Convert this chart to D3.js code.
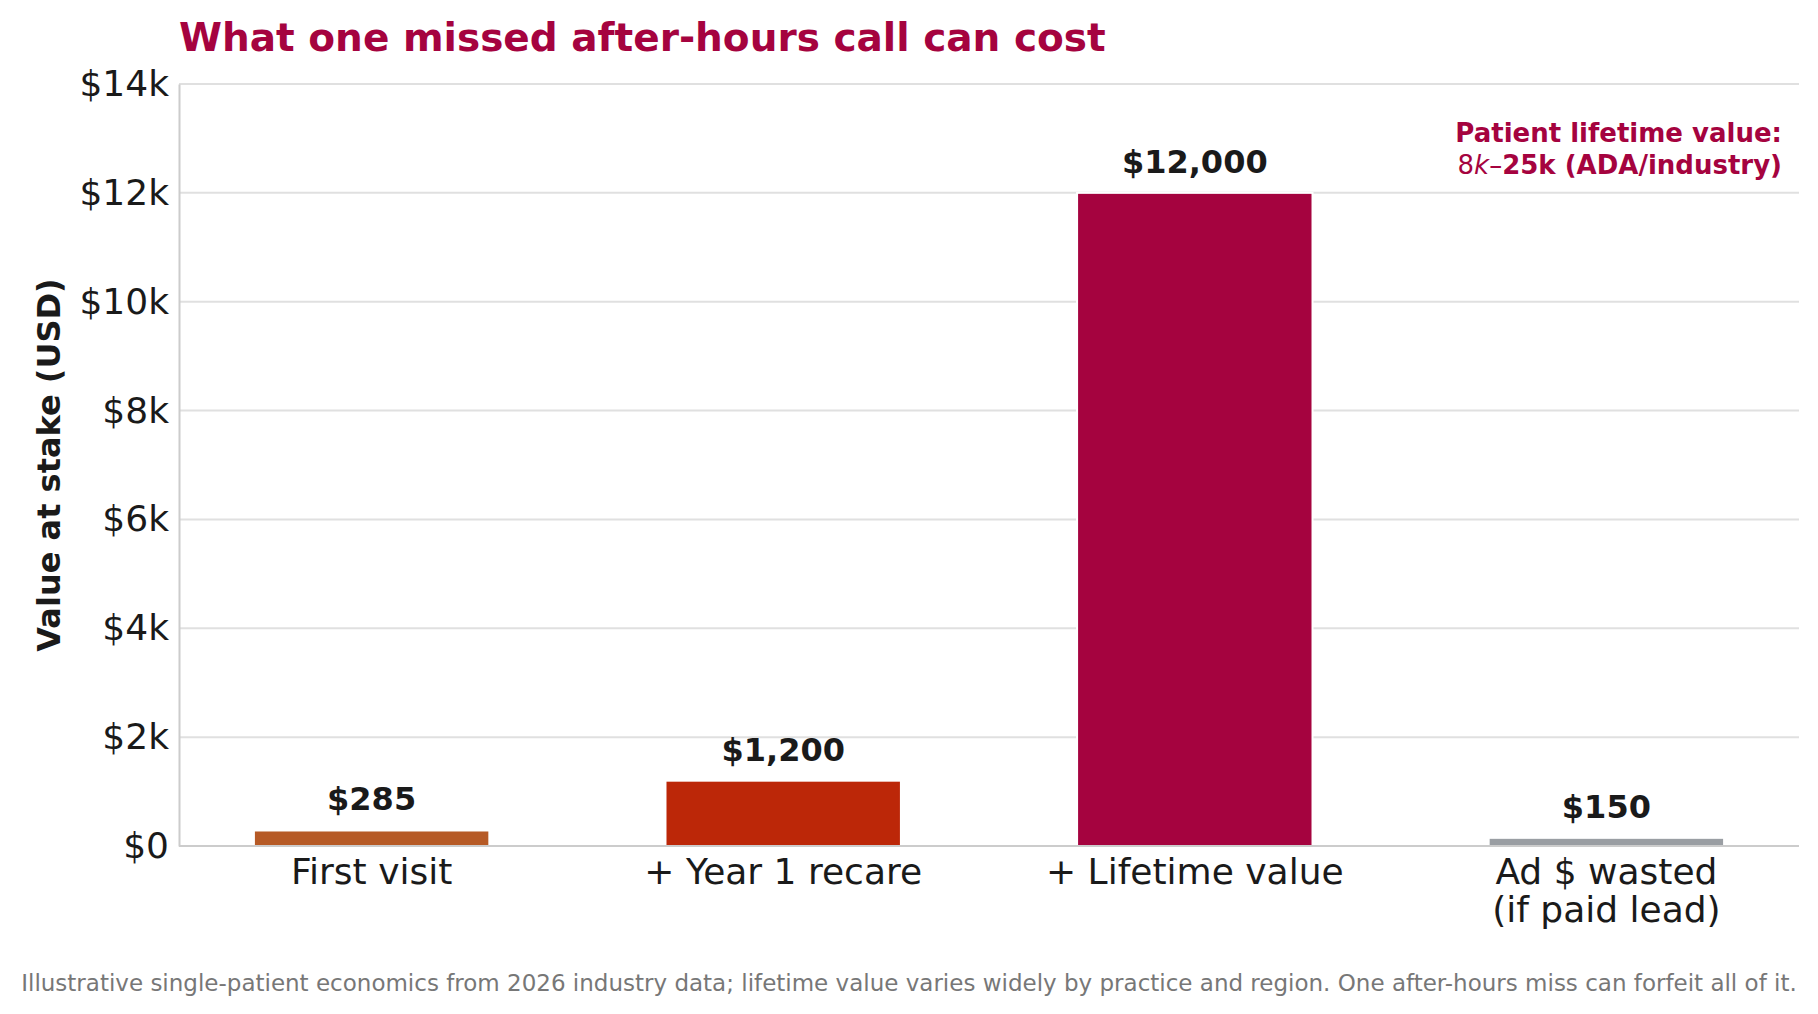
<!DOCTYPE html>
<html>
<head>
<meta charset="utf-8">
<script src="https://cdn.jsdelivr.net/npm/d3@7"></script>
<style>
  body { margin: 0; background: #fff; }
  svg { display: block; font-family: "DejaVu Sans", sans-serif; }
</style>
</head>
<body>
<svg id="chart"></svg>
<script>
// data
const categories = [["First visit"], ["+ Year 1 recare"], ["+ Lifetime value"], ["Ad $ wasted", "(if paid lead)"]];
const values = [285, 1200, 12000, 150];
const valueLabels = ["$285", "$1,200", "$12,000", "$150"];
const barColors = ["#b65a26", "#bc2708", "#a5033f", "#9a9ea3"];
const yTicks = [0, 2000, 4000, 6000, 8000, 10000, 12000, 14000];

const width = 1818;
const height = 1014;
const margin = { top: 84, bottom: 168, left: 179, right: 19 };
const accent = "#a5033f";
const ink = "#1a1a1a";

const svg = d3.select('#chart')
  .attr('width', width)
  .attr('height', height);

const x = d3.scaleBand()
  .domain(d3.range(values.length))
  .range([margin.left, width - margin.right])
  .paddingInner(0.428)
  .paddingOuter(0.182);

const y = d3.scaleLinear()
  .domain([0, 14000])
  .range([height - margin.bottom, margin.top]);

// grid
svg.append("g")
  .selectAll("line")
  .data(yTicks)
  .join("line")
    .attr("x1", margin.left)
    .attr("x2", width - margin.right)
    .attr("y1", d => y(d))
    .attr("y2", d => y(d))
    .attr("stroke", "#e0e0e0")
    .attr("stroke-width", 2);

// bars
svg.append("g")
  .selectAll("rect")
  .data(values)
  .join("rect")
    .attr("x", (d, i) => x(i))
    .attr("y", d => y(d))
    .attr("width", x.bandwidth())
    .attr("height", d => y(0) - y(d))
    .attr("fill", (d, i) => barColors[i])
    .attr("stroke", "#fff")
    .attr("stroke-width", 2);

// value labels
svg.append("g")
  .selectAll("text")
  .data(values)
  .join("text")
    .attr("x", (d, i) => x(i) + x.bandwidth() / 2)
    .attr("y", d => y(d) - 20)
    .attr("text-anchor", "middle")
    .attr("font-size", 32)
    .attr("font-weight", "bold")
    .attr("fill", ink)
    .text((d, i) => valueLabels[i]);

// y axis
const yAxis = (g) => {
  g.attr("transform", `translate(${margin.left}, 0)`)
    .call(d3.axisLeft(y).tickValues(yTicks).tickSize(0).tickPadding(10)
      .tickFormat(d => d === 0 ? "$0" : `$${d / 1000}k`))
    .attr("font-size", 36)
    .attr("font-family", "DejaVu Sans");
  g.select(".domain").attr("stroke", "#cccccc").attr("stroke-width", 2);
  g.selectAll(".tick text").attr("fill", ink);
}

// x axis
const xAxis = (g) => {
  g.attr("transform", `translate(0,${y(0)})`)
    .call(d3.axisBottom(x).tickSize(0).tickFormat(""))
  g.select(".domain").attr("stroke", "#cccccc").attr("stroke-width", 2)
    .attr("d", `M${margin.left},0H${width - margin.right}`);
  g.selectAll(".tick").each(function(d) {
    const t = d3.select(this).append("text")
      .attr("fill", ink)
      .attr("font-size", 36)
      .attr("font-family", "DejaVu Sans")
      .attr("text-anchor", "middle");
    categories[d].forEach((line, k) => {
      t.append("tspan").attr("x", 0).attr("y", 38 + k * 38).text(line);
    });
  });
}

svg.append("g").call(xAxis);
svg.append("g").call(yAxis);

// axis title
svg.append("text")
  .attr("transform", `translate(${60},${(y(0) + y(14000)) / 2}) rotate(-90)`)
  .attr("text-anchor", "middle")
  .attr("font-size", 32)
  .attr("font-weight", "bold")
  .attr("fill", ink)
  .text("Value at stake (USD)");

// title
svg.append("text")
  .attr("x", margin.left)
  .attr("y", 51)
  .attr("font-size", 39)
  .attr("font-weight", "bold")
  .attr("fill", accent)
  .text("What one missed after-hours call can cost");

// annotation
const note = svg.append("text")
  .attr("text-anchor", "end")
  .attr("font-size", 26)
  .attr("font-weight", "bold")
  .attr("fill", accent);
note.append("tspan").attr("x", 1782).attr("y", 142).text("Patient lifetime value:");
const l2 = note.append("tspan").attr("x", 1782).attr("y", 174);
l2.append("tspan").attr("font-weight", "normal").text("8");
l2.append("tspan").attr("font-style", "italic").attr("font-weight", "normal").text("k");
l2.append("tspan").attr("font-weight", "normal").text("–");
l2.append("tspan").text("25k (ADA/industry)");

// footer
svg.append("text")
  .attr("x", width / 2)
  .attr("y", 991)
  .attr("text-anchor", "middle")
  .attr("font-size", 23)
  .attr("fill", "#777777")
  .text("Illustrative single-patient economics from 2026 industry data; lifetime value varies widely by practice and region. One after-hours miss can forfeit all of it.");
</script>
</body>
</html>
